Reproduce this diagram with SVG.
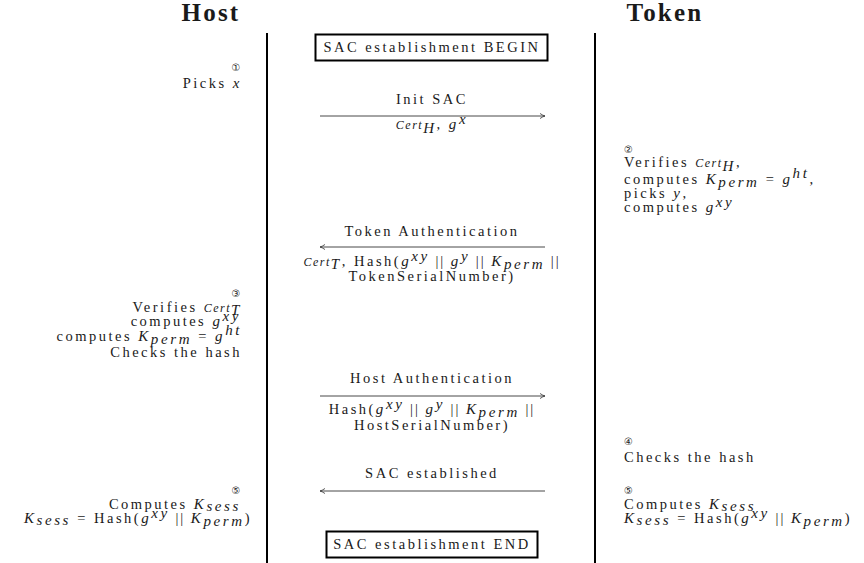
<svg xmlns="http://www.w3.org/2000/svg" width="864" height="563" viewBox="0 0 864 563">
<style>
text{font-family:"Liberation Serif","DejaVu Serif",serif;font-size:14.5px;fill:#1a1a1a;letter-spacing:2.5px}
.title{font-size:25px;font-weight:bold;letter-spacing:2.2px}
.num{font-family:"DejaVu Sans",sans-serif;font-size:10px;letter-spacing:0}
.it{font-style:italic;font-size:15px;letter-spacing:2.6px}
.sm{font-size:12px;letter-spacing:1.5px}
.mid{text-anchor:middle}
.end{text-anchor:end}
.par{letter-spacing:2px}
.life{stroke:#000;stroke-width:2}
.box{fill:#fff;stroke:#000;stroke-width:2}
.arr{stroke:#333;stroke-width:0.9;fill:none}
</style>
<defs>
<marker id="ah" markerWidth="8" markerHeight="8" refX="6" refY="4" orient="auto" markerUnits="userSpaceOnUse">
<path d="M1,1.5 Q4,3.5 6,4 Q4,4.5 1,6.5" fill="none" stroke="#333" stroke-width="0.8"/>
</marker>
</defs>

<g id="host">
<text class="title mid" x="211" y="21">Host</text>
<line class="life" x1="267" y1="33" x2="267" y2="563"/>
</g>
<g id="token">
<text class="title mid" x="665" y="21">Token</text>
<line class="life" x1="595" y1="33" x2="595" y2="563"/>
</g>

<g id="begin">
<rect class="box" x="315.5" y="34.5" width="232" height="26"/>
<text class="mid" x="432" y="52">SAC establishment BEGIN</text>
</g>

<g id="host-step1">
<text class="num mid" x="236" y="71">①</text>
<text class="end" x="242" y="88">Picks <tspan class="it">x</tspan></text>
</g>

<g id="token-step2">
<text class="num" x="624" y="153">②</text>
<text x="624" y="167">Verifies <tspan class="it sm">Cert</tspan><tspan class="it" dy="4">H</tspan><tspan dy="-4">,</tspan></text>
<text x="624" y="184">computes <tspan class="it">K</tspan><tspan class="it" dy="3">perm</tspan><tspan dy="-3"> = </tspan><tspan class="it">g</tspan><tspan class="it" dy="-6">ht</tspan><tspan dy="6">,</tspan></text>
<text x="624" y="198">picks <tspan class="it">y</tspan>,</text>
<text x="624" y="212">computes <tspan class="it">g</tspan><tspan class="it" dy="-5">xy</tspan></text>
</g>

<g id="host-step3">
<text class="num mid" x="236" y="297">③</text>
<text class="end" x="242" y="312">Verifies <tspan class="it sm">Cert</tspan><tspan class="it" dy="3">T</tspan></text>
<text class="end" x="241" y="326">computes <tspan class="it">g</tspan><tspan class="it" dy="-5">xy</tspan></text>
<text class="end" x="242" y="341">computes <tspan class="it">K</tspan><tspan class="it" dy="3">perm</tspan><tspan dy="-3"> = </tspan><tspan class="it">g</tspan><tspan class="it" dy="-6">ht</tspan></text>
<text class="end" x="242" y="357">Checks the hash</text>
</g>

<g id="token-step4">
<text class="num" x="624" y="445">④</text>
<text x="624" y="462">Checks the hash</text>
</g>

<g id="host-step5">
<text class="num mid" x="236" y="494">⑤</text>
<text class="end" x="241" y="509">Computes <tspan class="it">K</tspan><tspan class="it" dy="2">sess</tspan></text>
<text class="end" x="252" y="523"><tspan class="it">K</tspan><tspan class="it" dy="2">sess</tspan><tspan dy="-2"> = Hash(</tspan><tspan class="it">g</tspan><tspan class="it" dy="-5">xy</tspan><tspan class="par" dy="5"> || </tspan><tspan class="it">K</tspan><tspan class="it" dy="3">perm</tspan><tspan dy="-3">)</tspan></text>
</g>

<g id="token-step5">
<text class="num" x="624" y="494">⑤</text>
<text x="624" y="509">Computes <tspan class="it">K</tspan><tspan class="it" dy="2">sess</tspan></text>
<text x="624" y="523"><tspan class="it">K</tspan><tspan class="it" dy="2">sess</tspan><tspan dy="-2"> = Hash(</tspan><tspan class="it">g</tspan><tspan class="it" dy="-5">xy</tspan><tspan class="par" dy="5"> || </tspan><tspan class="it">K</tspan><tspan class="it" dy="3">perm</tspan><tspan dy="-3">)</tspan></text>
</g>

<g id="end">
<rect class="box" x="326.5" y="531.5" width="211" height="26"/>
<text class="mid" x="432" y="549">SAC establishment END</text>
</g>

<g id="connectors">
<text class="mid" x="432" y="104">Init SAC</text>
<line class="arr" x1="320" y1="116" x2="545" y2="116" marker-end="url(#ah)"/>
<text class="mid" x="432" y="129"><tspan class="it sm">Cert</tspan><tspan class="it" dy="4">H</tspan><tspan dy="-4">, </tspan><tspan class="it">g</tspan><tspan class="it" dy="-5">x</tspan></text>

<text class="mid" x="432" y="236">Token Authentication</text>
<line class="arr" x1="545" y1="247" x2="320" y2="247" marker-end="url(#ah)"/>
<text class="mid" x="432" y="266"><tspan class="it sm">Cert</tspan><tspan class="it" dy="3">T</tspan><tspan dy="-3">, Hash(</tspan><tspan class="it">g</tspan><tspan class="it" dy="-5">xy</tspan><tspan class="par" dy="5"> || </tspan><tspan class="it">g</tspan><tspan class="it" dy="-5">y</tspan><tspan class="par" dy="5"> || </tspan><tspan class="it">K</tspan><tspan class="it" dy="3">perm</tspan><tspan class="par" dy="-3"> ||</tspan></text>
<text class="mid" x="432" y="281">TokenSerialNumber)</text>

<text class="mid" x="432" y="383">Host Authentication</text>
<line class="arr" x1="320" y1="396" x2="545" y2="396" marker-end="url(#ah)"/>
<text class="mid" x="432" y="414">Hash(<tspan class="it">g</tspan><tspan class="it" dy="-5">xy</tspan><tspan class="par" dy="5"> || </tspan><tspan class="it">g</tspan><tspan class="it" dy="-5">y</tspan><tspan class="par" dy="5"> || </tspan><tspan class="it">K</tspan><tspan class="it" dy="3">perm</tspan><tspan class="par" dy="-3"> ||</tspan></text>
<text class="mid" x="432" y="430">HostSerialNumber)</text>

<text class="mid" x="432" y="478">SAC established</text>
<line class="arr" x1="545" y1="491" x2="320" y2="491" marker-end="url(#ah)"/>
</g>
</svg>
